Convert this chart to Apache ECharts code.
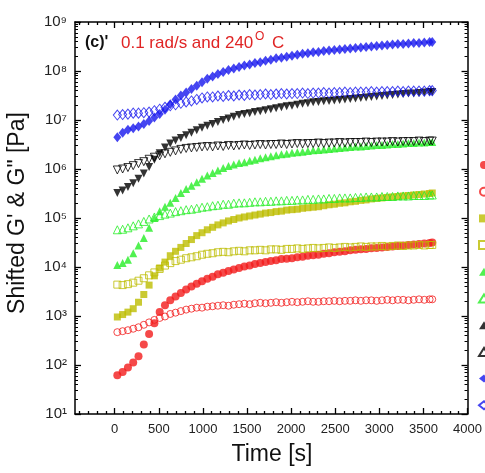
<!DOCTYPE html>
<html>
<head>
<meta charset="utf-8">
<script src="https://cdn.jsdelivr.net/npm/echarts@6/dist/echarts.min.js"></script>
<style>
  html, body { margin: 0; padding: 0; background: #fff; }
  #chart { width: 485px; height: 473px; }
</style>
</head>
<body>
<div id="chart"></div>
<script>
// Time of each measurement [s]
const timeS = [30, 90, 150, 210, 270, 330, 390, 450, 510, 570, 630, 690, 750, 810, 870, 930, 990,
  1050, 1110, 1170, 1230, 1290, 1350, 1410, 1470, 1530, 1590, 1650, 1710, 1770, 1830, 1890, 1950,
  2010, 2070, 2130, 2190, 2250, 2310, 2370, 2430, 2490, 2550, 2610, 2670, 2730, 2790, 2850, 2910,
  2970, 3030, 3090, 3150, 3210, 3270, 3330, 3390, 3450, 3510, 3570, 3600];

// Shifted storage (G') and loss (G'') moduli [Pa], five curves each
const storage1 = [62, 72, 89, 112, 151, 263, 427, 708, 1200, 1660, 2090, 2510, 2950, 3470, 3980, 4570,
  5130, 5750, 6310, 7080, 7590, 8320, 8910, 9550, 10200, 10700, 11500, 12000, 12600, 13200, 13800,
  14500, 14800, 15100, 15800, 16200, 17000, 17400, 17800, 18600, 19100, 20000, 20400, 20900, 21900,
  22400, 22900, 23400, 24000, 24500, 25100, 25700, 26300, 26900, 27500, 28200, 28800, 29500, 30200,
  30900, 31600];
const loss1 = [468, 490, 513, 550, 589, 661, 741, 832, 912, 977, 1100, 1170, 1260, 1350, 1410, 1480,
  1480, 1550, 1580, 1620, 1660, 1620, 1700, 1740, 1780, 1740, 1820, 1860, 1820, 1860, 1910, 1860,
  1910, 1950, 1910, 1950, 2000, 1950, 1950, 2000, 2000, 2040, 2000, 2040, 2040, 2090, 2040, 2090,
  2090, 2040, 2090, 2140, 2090, 2140, 2140, 2090, 2140, 2190, 2140, 2190, 2190];
const storage2 = [955, 1070, 1200, 1410, 1910, 2750, 4270, 6610, 9550, 12600, 17000, 20900, 25100,
  30200, 36300, 43700, 50100, 57500, 64600, 72400, 79400, 87100, 93300, 100000, 105000, 110000,
  115000, 120000, 126000, 129000, 135000, 138000, 145000, 148000, 151000, 158000, 162000, 166000,
  170000, 178000, 186000, 191000, 200000, 204000, 214000, 219000, 229000, 234000, 245000, 251000,
  257000, 263000, 269000, 275000, 282000, 288000, 295000, 302000, 309000, 316000, 324000];
const loss2 = [4370, 4270, 4470, 4790, 5250, 5890, 6760, 7760, 9120, 10700, 12000, 13200, 14100, 15100,
  15800, 16600, 17800, 18600, 19100, 20000, 20400, 20000, 20900, 21400, 20900, 21900, 21900, 22400,
  21900, 22900, 22900, 22400, 23400, 23400, 24000, 23400, 24000, 24500, 24000, 24500, 25100, 24500,
  25100, 25700, 25100, 25700, 26300, 25700, 26300, 26300, 26900, 26300, 26900, 27500, 26900, 27500,
  27500, 28200, 27500, 28200, 28200];
const storage3 = [11000, 12000, 14100, 19100, 27500, 38900, 63100, 100000, 138000, 170000, 204000,
  257000, 324000, 389000, 457000, 537000, 631000, 741000, 832000, 933000, 1.05e6, 1.15e6, 1.23e6,
  1.32e6, 1.38e6, 1.48e6, 1.55e6, 1.66e6, 1.74e6, 1.82e6, 1.91e6, 2.00e6, 2.04e6, 2.14e6, 2.19e6,
  2.24e6, 2.34e6, 2.40e6, 2.45e6, 2.51e6, 2.57e6, 2.63e6, 2.69e6, 2.75e6, 2.82e6, 2.88e6, 2.88e6,
  2.95e6, 3.02e6, 3.09e6, 3.09e6, 3.16e6, 3.24e6, 3.24e6, 3.31e6, 3.39e6, 3.39e6, 3.47e6, 3.47e6,
  3.55e6, 3.55e6];
const loss3 = [57500, 58900, 63100, 69200, 75900, 85100, 95500, 105000, 112000, 120000, 126000, 135000,
  141000, 148000, 151000, 158000, 166000, 170000, 178000, 182000, 191000, 191000, 200000, 204000,
  204000, 209000, 214000, 214000, 219000, 219000, 224000, 224000, 229000, 229000, 234000, 234000,
  240000, 240000, 245000, 245000, 251000, 251000, 257000, 257000, 257000, 263000, 263000, 269000,
  269000, 269000, 275000, 275000, 275000, 282000, 282000, 282000, 288000, 288000, 288000, 295000,
  295000];
const storage4 = [324000, 363000, 427000, 513000, 631000, 813000, 1.10e6, 1.55e6, 2.09e6, 2.75e6,
  3.31e6, 3.80e6, 4.27e6, 4.90e6, 5.50e6, 6.17e6, 6.92e6, 7.59e6, 8.32e6, 9.12e6, 10.0e6, 10.7e6,
  11.7e6, 12.6e6, 13.2e6, 13.8e6, 14.5e6, 15.1e6, 15.8e6, 16.6e6, 17.4e6, 18.2e6, 19.1e6, 19.5e6,
  20.4e6, 21.4e6, 21.9e6, 22.9e6, 23.4e6, 24.0e6, 24.5e6, 25.1e6, 25.7e6, 26.3e6, 26.9e6, 27.5e6,
  28.2e6, 28.8e6, 29.5e6, 30.2e6, 30.9e6, 31.6e6, 32.4e6, 33.1e6, 33.9e6, 34.7e6, 34.7e6, 35.5e6,
  36.3e6, 37.2e6, 37.2e6];
const loss4 = [955000, 1.00e6, 1.07e6, 1.17e6, 1.29e6, 1.41e6, 1.58e6, 1.74e6, 1.86e6, 2.04e6, 2.19e6,
  2.34e6, 2.51e6, 2.63e6, 2.69e6, 2.75e6, 2.82e6, 2.88e6, 2.82e6, 2.95e6, 2.88e6, 3.02e6, 2.95e6,
  3.02e6, 3.09e6, 3.02e6, 3.09e6, 3.16e6, 3.09e6, 3.16e6, 3.16e6, 3.24e6, 3.16e6, 3.24e6, 3.31e6,
  3.24e6, 3.31e6, 3.31e6, 3.39e6, 3.31e6, 3.39e6, 3.39e6, 3.47e6, 3.39e6, 3.47e6, 3.47e6, 3.47e6,
  3.55e6, 3.47e6, 3.55e6, 3.55e6, 3.55e6, 3.63e6, 3.55e6, 3.63e6, 3.63e6, 3.63e6, 3.72e6, 3.63e6,
  3.72e6, 3.72e6];
const storage5 = [4.47e6, 5.50e6, 6.31e6, 6.76e6, 7.41e6, 8.32e6, 9.55e6, 11.2e6, 13.2e6, 16.2e6,
  20.9e6, 26.3e6, 31.6e6, 36.3e6, 42.7e6, 50.1e6, 58.9e6, 69.2e6, 77.6e6, 87.1e6, 95.5e6, 105e6,
  112e6, 120e6, 129e6, 135e6, 145e6, 151e6, 162e6, 170e6, 182e6, 186e6, 195e6, 204e6, 214e6, 224e6,
  229e6, 240e6, 245e6, 257e6, 263e6, 269e6, 275e6, 282e6, 288e6, 295e6, 302e6, 309e6, 316e6, 324e6,
  331e6, 339e6, 347e6, 355e6, 355e6, 363e6, 372e6, 372e6, 380e6, 389e6, 389e6];
const loss5 = [12.6e6, 12.9e6, 13.2e6, 13.8e6, 13.8e6, 14.1e6, 14.5e6, 15.5e6, 16.6e6, 18.2e6, 19.5e6,
  20.4e6, 21.9e6, 23.4e6, 24.5e6, 26.3e6, 28.2e6, 29.5e6, 29.5e6, 30.9e6, 30.2e6, 31.6e6, 30.9e6,
  32.4e6, 31.6e6, 33.1e6, 32.4e6, 33.1e6, 33.9e6, 33.1e6, 33.9e6, 34.7e6, 33.9e6, 34.7e6, 34.7e6,
  35.5e6, 34.7e6, 35.5e6, 35.5e6, 36.3e6, 35.5e6, 36.3e6, 36.3e6, 37.2e6, 36.3e6, 37.2e6, 37.2e6,
  37.2e6, 38.0e6, 37.2e6, 38.0e6, 38.0e6, 38.0e6, 38.9e6, 38.0e6, 38.9e6, 38.9e6, 38.9e6, 38.9e6,
  39.8e6, 39.8e6];

// Axis tick positions on the time axis
const xMajorTicks = [0, 500, 1000, 1500, 2000, 2500, 3000, 3500, 4000];
const xMinorTicks = [-400, -300, -200, -100, 100, 200, 300, 400, 600, 700, 800, 900, 1100, 1200, 1300,
  1400, 1600, 1700, 1800, 1900, 2100, 2200, 2300, 2400, 2600, 2700, 2800, 2900, 3100, 3200, 3300,
  3400, 3600, 3700, 3800, 3900];

const FONT = '"Liberation Sans", Arial, Helvetica, sans-serif';
const RED = '#f21b1b', OLIVE = '#bdbd00', GREEN = '#26ee26', BLACK = '#000000', BLUE = '#1616ee';
const SUPERSCRIPT = ['\u2070', '\u00b9', '\u00b2', '\u00b3', '\u2074', '\u2075', '\u2076', '\u2077', '\u2078', '\u2079'];

const curves = [
  { name: "G' (1)", values: storage1, color: RED, symbol: 'circle', size: 8, filled: true },
  { name: 'G" (1)', values: loss1, color: RED, symbol: 'circle', size: 7, filled: false },
  { name: "G' (2)", values: storage2, color: OLIVE, symbol: 'rect', size: 7, filled: true },
  { name: 'G" (2)', values: loss2, color: OLIVE, symbol: 'rect', size: 7, filled: false },
  { name: "G' (3)", values: storage3, color: GREEN, symbol: 'triangle', size: 8, filled: true },
  { name: 'G" (3)', values: loss3, color: GREEN, symbol: 'triangle', size: 8, filled: false },
  { name: "G' (4)", values: storage4, color: BLACK, symbol: 'triangle', size: 8, filled: true, rotate: 180 },
  { name: 'G" (4)', values: loss4, color: BLACK, symbol: 'triangle', size: 8, filled: false, rotate: 180 },
  { name: "G' (5)", values: storage5, color: BLUE, symbol: 'diamond', size: [8, 10], filled: true },
  { name: 'G" (5)', values: loss5, color: BLUE, symbol: 'diamond', size: [8, 10], filled: false }
];

const series = curves.map(c => ({
  type: 'scatter',
  name: c.name,
  xAxisIndex: 0,
  yAxisIndex: 0,
  data: timeS.map((t, i) => [t, c.values[i]]),
  symbol: c.symbol,
  symbolSize: c.size,
  symbolRotate: c.rotate || 0,
  itemStyle: c.filled
    ? { color: c.color }
    : { color: 'rgba(255,255,255,0)', borderColor: c.color, borderWidth: 1 },
  emphasis: { disabled: true },
  silent: true
}));

function timeAxis(position, ticks, len, withLine, withLabels) {
  return {
    type: 'value', position, min: -450, max: 4000,
    axisLine: { show: withLine, onZero: false, lineStyle: { color: '#000', width: 1.5 } },
    axisTick: { show: true, inside: true, length: len, customValues: ticks,
      lineStyle: { color: '#000', width: 1.3 } },
    axisLabel: withLabels
      ? { show: true, customValues: xMajorTicks, formatter: v => String(v),
          color: '#222', fontSize: 13, fontFamily: FONT, margin: 9 }
      : { show: false },
    splitLine: { show: false }
  };
}

function modulusAxis(position, withLabels) {
  return {
    type: 'log', logBase: 10, position, min: 10, max: 1e9,
    axisLine: { show: true, onZero: false, lineStyle: { color: '#000', width: 1.5 } },
    axisTick: { show: true, inside: true, length: 6, lineStyle: { color: '#000', width: 1.3 } },
    minorTick: { show: true, splitNumber: 9, length: 3, lineStyle: { color: '#000', width: 1 } },
    axisLabel: withLabels
      ? {
          margin: 8, fontSize: 15, fontFamily: FONT, color: '#222',
          formatter: v => '10' + SUPERSCRIPT[Math.round(Math.log10(v))]
        }
      : { show: false },
    splitLine: { show: false }
  };
}

const option = {
  animation: false,
  backgroundColor: '#fff',
  grid: { left: 75, right: 15, top: 22, bottom: 59 },
  legend: {
    orient: 'vertical', left: 478, top: 161, padding: 0,
    itemWidth: 10, itemHeight: 8, itemGap: 17.7,
    selectedMode: false,
    textStyle: { fontSize: 8, color: '#000', fontFamily: FONT },
    data: curves.map(c => c.name)
  },
  xAxis: [
    timeAxis('bottom', xMajorTicks, 6, true, true),
    timeAxis('bottom', xMinorTicks, 3, false, false),
    timeAxis('top', xMajorTicks, 6, true, false),
    timeAxis('top', xMinorTicks, 3, false, false)
  ],
  yAxis: [
    modulusAxis('left', true),
    modulusAxis('right', false)
  ],
  graphic: [
    { type: 'text', x: 85, y: 43, silent: true,
      style: { text: "(c)'", font: 'bold 16px ' + FONT, fill: '#111', align: 'left', verticalAlign: 'middle' } },
    { type: 'text', x: 121, y: 43, silent: true,
      style: { text: '0.1 rad/s and 240', font: '17px ' + FONT, fill: '#e02424', align: 'left', verticalAlign: 'middle' } },
    { type: 'text', x: 255, y: 37, silent: true,
      style: { text: 'O', font: '12px ' + FONT, fill: '#e02424', align: 'left', verticalAlign: 'middle' } },
    { type: 'text', x: 272, y: 43, silent: true,
      style: { text: 'C', font: '17px ' + FONT, fill: '#e02424', align: 'left', verticalAlign: 'middle' } },
    { type: 'text', x: 18, y: 213, rotation: Math.PI / 2, silent: true,
      style: { text: 'Shifted G\' & G" [Pa]', font: '23px ' + FONT, fill: '#111', align: 'center', verticalAlign: 'middle' } },
    { type: 'text', x: 272, y: 455, silent: true,
      style: { text: 'Time [s]', font: '23px ' + FONT, fill: '#111', align: 'center', verticalAlign: 'middle' } }
  ],
  series
};

const chart = echarts.init(document.getElementById('chart'), null, { renderer: 'canvas' });
chart.setOption(option);
</script>
</body>
</html>
